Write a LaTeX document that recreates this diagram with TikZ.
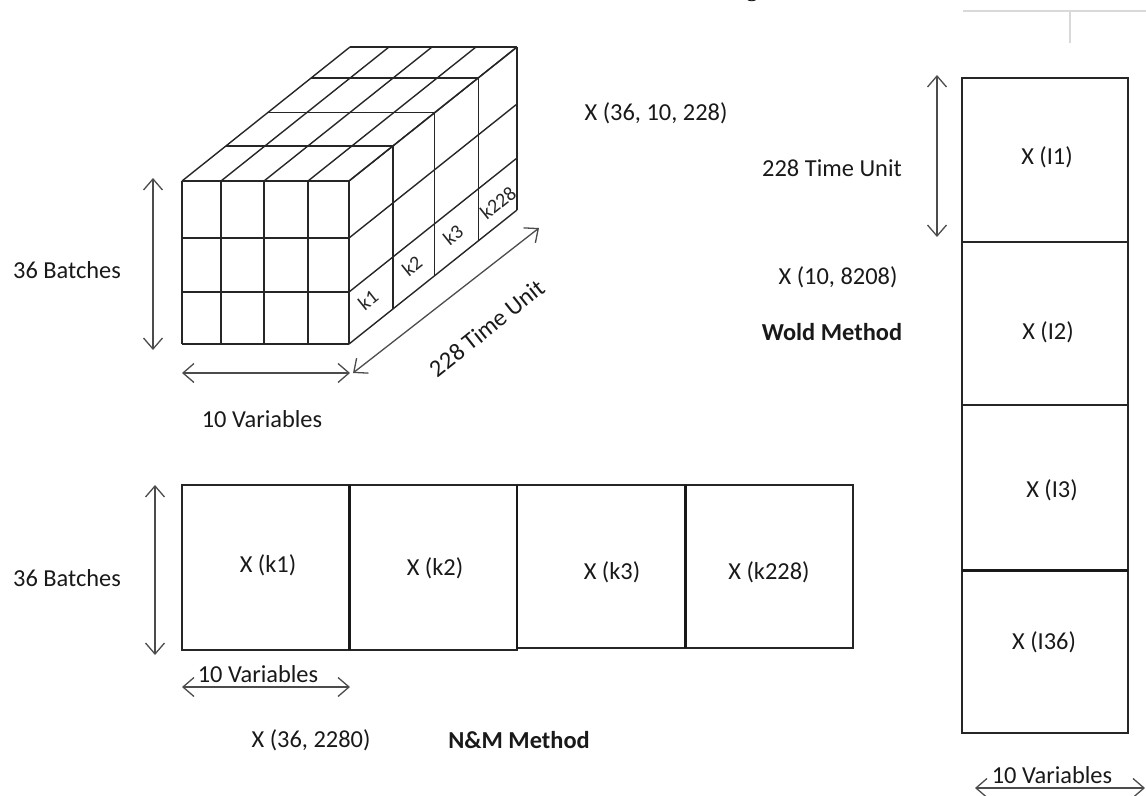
\documentclass[tikz,border=0pt]{standalone}
\usepackage{fontspec}
\setmainfont{Carlito}
\newfontfamily\captionserif{Liberation Serif}
\usetikzlibrary{arrows.meta,calc}
\tikzset{
  gridline/.style={line width=1.4bp, draw=black!85},
  boxline/.style={line width=1.6bp, draw=black!85},
  sepline/.style={line width=3bp, draw=black!90},
  rule/.style={line width=1.2bp, draw=black!15},
  barb/.tip={Straight Barb[length=11bp,width=19bp,line width=1.3bp]},
  dimarrow/.style={line width=1.3bp, draw=black!70, barb-barb},
  lbl/.style={font=\fontsize{24.5}{29}\selectfont, text=black!90, inner sep=0pt},
  boldlbl/.style={lbl, font=\fontsize{24.5}{29}\selectfont\bfseries},
  klbl/.style={font=\fontsize{20}{24}\selectfont, text=black!85, inner sep=0pt, rotate=38.6},
}
\begin{document}
\begin{tikzpicture}[x=1bp,y=-1bp]
\useasboundingbox (0,0) rectangle (1146,796);
\clip (0,0) rectangle (1146,796);

% ---- page furniture at the top ----
\node[font=\captionserif\fontsize{24}{24}\selectfont, anchor=base, inner sep=0pt] (capg) at (752,-3) {g};
\draw[rule] (963,11) -- (1146,11);
\draw[rule] (1070,11) -- (1070,43);

% ---- the three-way data cube ----
% front face
\foreach \x in {182,221,264,308,349} \draw[gridline] (\x,181) -- (\x,344);
\foreach \y in {181,238,292,344} \draw[gridline] (182,\y) -- (349,\y);
% top face
\foreach \x in {182,221,264,308,349} \draw[gridline] (\x,181) -- ++(168,-134);
\foreach \f in {0.262,0.51,0.77,1} \draw[gridline] ($(182,181)+\f*(168,-134)$) -- ++(167,0);
% right face (time slices)
\foreach \y in {181,238,292,344} \draw[gridline] (349,\y) -- ++(168,-134);
\foreach \f in {0.262,0.51,0.77,1} \draw[gridline] ($(349,181)+\f*(168,-134)$) -- ++(0,163);

\node[klbl] (k1) at (368,300) {k1};
\node[klbl] (k2) at (412,266) {k2};
\node[klbl] (k3) at (453,235) {k3};
\node[klbl] (k228) at (498,203) {k228};

\node[lbl] (cubename) at (656,113) {X (36, 10, 228)};

% cube dimensions
\coordinate (bt) at (153,178); \coordinate (bb) at (153,350);
\draw[dimarrow] (bt) -- (bb);
\node[lbl] (batchesA) at (67,270) {36 Batches};

\coordinate (vl) at (182,373); \coordinate (vr) at (350,373);
\draw[dimarrow] (vl) -- (vr);
\node[lbl] (varsA) at (262,419) {10 Variables};

\coordinate (ts) at (353,373); \coordinate (te) at (539,228);
\draw[dimarrow] (ts) -- (te);
\node[lbl, rotate=38.6] (timeA) at (487,328) {228 Time Unit};

% ---- N&M unfolding: batches x (variables . time) ----
\draw[boxline] (182,485) rectangle (349,650);
\draw[boxline] (349,485) rectangle (517,650);
\draw[boxline] (517,485) rectangle (685,648);
\draw[boxline] (685,485) rectangle (853,648);
\draw[sepline] (349,485) -- (349,650);
\draw[line width=2.2bp, draw=black!90] (517,485) -- (517,649);
\draw[sepline] (685,485) -- (685,648);

\node[lbl] (xk1) at (268,565) {X (k1)};
\node[lbl] (xk2) at (435,568) {X (k2)};
\node[lbl] (xk3) at (612,572) {X (k3)};
\node[lbl] (xk228) at (769,572) {X (k228)};

\coordinate (nbt) at (155,485); \coordinate (nbb) at (155,655);
\draw[dimarrow] (nbt) -- (nbb);
\node[lbl] (batchesB) at (67,578) {36 Batches};

\coordinate (nvl) at (182,687); \coordinate (nvr) at (350,687);
\draw[dimarrow] (nvl) -- (nvr);
\node[lbl] (varsB) at (258,674) {10 Variables};

\node[lbl] (nmsize) at (311,740) {X (36, 2280)};
\node[boldlbl] (nmname) at (519,740) {N\&M Method};

% ---- Wold unfolding: (batches . time) x variables ----
\draw[boxline] (962,78) rectangle (1128,733);
\draw[boxline] (962,242) -- (1128,242);
\draw[boxline] (962,405) -- (1128,405);
\draw[sepline] (962,570) -- (1128,570);

\node[lbl] (xi1) at (1047,157) {X (I1)};
\node[lbl] (xi2) at (1048,332) {X (I2)};
\node[lbl] (xi3) at (1052,490) {X (I3)};
\node[lbl] (xi36) at (1044,642) {X (I36)};

\coordinate (wt) at (937,75); \coordinate (wb) at (937,237);
\draw[dimarrow] (wt) -- (wb);
\node[lbl] (timeB) at (832,168) {228 Time Unit};

\node[lbl] (woldsize) at (838,277) {X (10, 8208)};
\node[boldlbl] (woldname) at (832,332) {Wold Method};

\coordinate (wvl) at (975,788); \coordinate (wvr) at (1145,788);
\draw[dimarrow] (wvl) -- (wvr);
\node[lbl] (varsC) at (1052,775) {10 Variables};
\end{tikzpicture}
\end{document}
